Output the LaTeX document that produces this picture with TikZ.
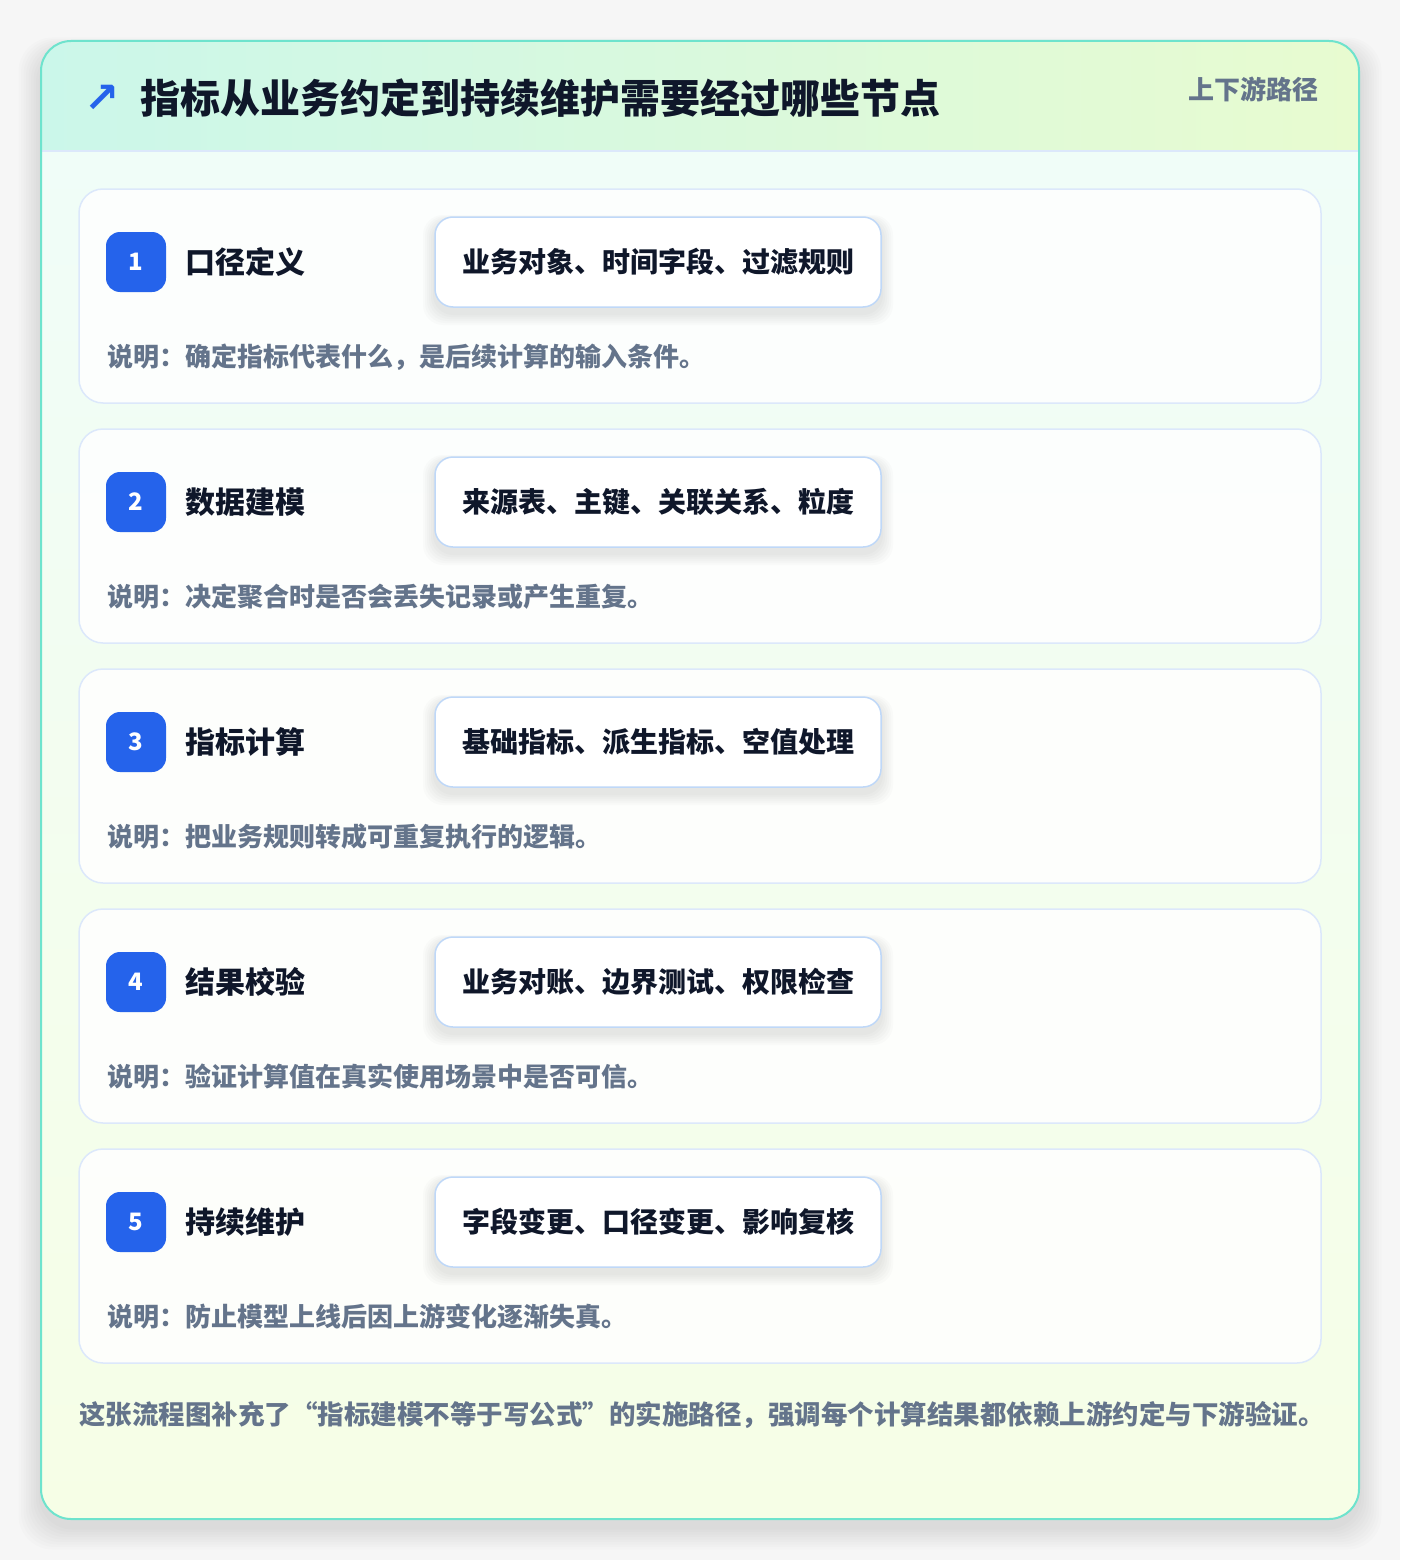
\documentclass[tikz,border=0pt]{standalone}
\usepackage{fontspec}
\setmainfont{Noto Sans CJK SC}
\newfontfamily\symfont{DejaVu Sans}
\usetikzlibrary{positioning}

\definecolor{pagebg}{HTML}{F6F6F6}
\definecolor{rimteal}{HTML}{6EE3CD}
\definecolor{headleft}{HTML}{CBF7EA}
\definecolor{headright}{HTML}{E8FBD0}
\definecolor{bodytop}{HTML}{F0FDF8}
\definecolor{bodybot}{HTML}{F6FEE6}
\definecolor{cardline}{HTML}{DCE8FB}
\definecolor{chipline}{HTML}{BFD8F8}
\definecolor{badgeblue}{HTML}{2563EB}
\definecolor{ink}{HTML}{0F172A}
\definecolor{mutegray}{HTML}{64748B}

\tikzset{
  card/.style={draw=cardline, line width=1.5pt, fill=white, fill opacity=0.85,
    rounded corners=24pt, minimum width=1242pt, minimum height=214pt, inner sep=0pt},
  badge/.style={fill=badgeblue, rounded corners=14pt, minimum size=60pt, inner sep=0pt,
    text=white, font=\bfseries\fontsize{24}{24}\selectfont},
  steptitle/.style={inner sep=0pt, text=ink, font=\bfseries\fontsize{30}{30}\selectfont},
  chip/.style={draw=chipline, line width=1.5pt, fill=white, rounded corners=18pt,
    minimum width=446pt, minimum height=90pt, inner sep=0pt, text=ink,
    font=\bfseries\fontsize{28}{28}\selectfont},
  note/.style={anchor=west, inner sep=0pt, text=mutegray, font=\bfseries\fontsize{26}{26}\selectfont},
  haze/.style={fill=black, opacity=0.012},
}

\begin{document}
\begin{tikzpicture}[x=1pt,y=-1pt]
% page and frame
\fill[pagebg] (0,0) rectangle (1400,1560);
\foreach \k in {1,...,9}
  \fill[haze, rounded corners=34pt] (41-\k*2.5,41+10-\k*1.5) rectangle (1359+\k*2.5,1519+8+\k*2.5);
\begin{scope}
  \clip[rounded corners=30pt] (41,41) rectangle (1359,1519);
  \shade[top color=bodytop, bottom color=bodybot] (41,151) rectangle (1359,1519);
  \shade[left color=headleft, right color=headright] (41,41) rectangle (1359,151);
  \draw[cardline, line width=1.5pt] (41,151) -- (1359,151);
\end{scope}
\draw[rimteal, line width=2pt, rounded corners=30pt] (41,41) rectangle (1359,1519);

% header
\node (icon) [text=badgeblue, font=\symfont\bfseries\fontsize{42}{42}\selectfont] at (102,99) {↗};
\node (title) [anchor=west, inner sep=0pt, text=ink, font=\bfseries\fontsize{40}{40}\selectfont]
  at (140,98) {指标从业务约定到持续维护需要经过哪些节点};
\node (tag) [anchor=east, inner sep=0pt, text=mutegray, font=\bfseries\fontsize{26}{26}\selectfont]
  at (1319,89) {上下游路径};

% steps
\foreach \i/\name/\items/\desc in {
    1/口径定义/业务对象、时间字段、过滤规则/确定指标代表什么，是后续计算的输入条件。,
    2/数据建模/来源表、主键、关联关系、粒度/决定聚合时是否会丢失记录或产生重复。,
    3/指标计算/基础指标、派生指标、空值处理/把业务规则转成可重复执行的逻辑。,
    4/结果校验/业务对账、边界测试、权限检查/验证计算值在真实使用场景中是否可信。,
    5/持续维护/字段变更、口径变更、影响复核/防止模型上线后因上游变化逐渐失真。} {
  \pgfmathsetmacro\cy{296+(\i-1)*240}
  \node (card\i) [card] at (700,\cy) {};
  \node (badge\i) [badge] at (136,\cy-34) {\i};
  \node (name\i) [steptitle, right=19pt of badge\i] {\name};
  \foreach \k in {1,...,6}
    \fill[haze, opacity=0.016, rounded corners=20pt] (435-\k*2,\cy-79+4-\k) rectangle (881+\k*2,\cy+11+6+\k*2);
  \node (chip\i) [chip] at (658,\cy-34) {\items};
  \node (desc\i) [note] at (107,\cy+61) {说明：\desc};
}

% footer
\node (summary) [anchor=west, inner sep=0pt, text=mutegray, font=\bfseries\fontsize{26.5}{26.5}\selectfont]
  at (79,1415) {这张流程图补充了“指标建模不等于写公式”的实施路径，强调每个计算结果都依赖上游约定与下游验证。};
\end{tikzpicture}
\end{document}
